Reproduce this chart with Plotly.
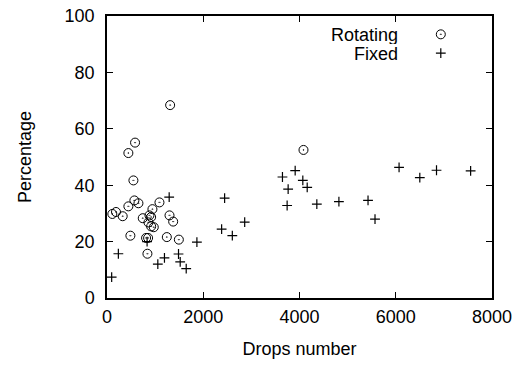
import plotly.graph_objects as go

rot_x = [1312, 583, 444, 549, 4083, 111, 187, 326, 444, 569, 653, 1090, 944, 882, 917, 743,
         861, 917, 972, 1299, 1375, 486, 812, 854, 1243, 1493, 840]
rot_y = [68.4, 55.1, 51.4, 41.7, 52.5, 29.8, 30.5, 29.0, 32.5, 34.6, 33.6, 33.9, 31.5, 29.3, 28.7, 28.3,
         26.8, 25.4, 25.1, 29.3, 27.1, 22.1, 21.3, 21.3, 21.6, 20.7, 15.7]

fix_x = [1292, 2382, 1868, 236, 97, 1056, 1194, 1486, 1521, 1646, 833, 2444, 2604, 2861,
         3646, 3910, 3764, 3743, 4069, 4160, 4360, 4819, 5424, 5569, 6069, 6500, 6847, 7556]
fix_y = [35.8, 24.4, 19.8, 15.7, 7.4, 12.0, 14.2, 15.6, 12.8, 10.4, 20.0, 35.4, 22.1, 26.9,
         42.9, 45.2, 38.6, 32.8, 41.7, 39.2, 33.3, 34.2, 34.6, 28.0, 46.3, 42.7, 45.3, 45.1]

labels = ["Rotating", "Fixed"]
x_ticks = [0, 2000, 4000, 6000, 8000]
y_ticks = [0, 20, 40, 60, 80, 100]

FONT = "Liberation Sans, Arial, sans-serif"
circ = dict(symbol="circle-open-dot", size=9, color="black", line=dict(width=1, color="black"))
plus = dict(symbol="cross-thin-open", size=7, color="black", line=dict(width=1.2, color="black"))

fig = go.Figure()
fig.add_trace(go.Scatter(x=rot_x, y=rot_y, mode="markers", name=labels[0], marker=circ, showlegend=False))
fig.add_trace(go.Scatter(x=fix_x, y=fix_y, mode="markers", name=labels[1], marker=plus, showlegend=False))

# legend keys on an invisible overlay axis (0..1 in plot fraction)
key_x = 0.867
key_y = [0.935, 0.868]
fig.add_trace(go.Scatter(x=[key_x], y=[key_y[0]], mode="markers", marker=circ, xaxis="x2", yaxis="y2",
                         showlegend=False, hoverinfo="skip"))
fig.add_trace(go.Scatter(x=[key_x], y=[key_y[1]], mode="markers", marker=plus, xaxis="x2", yaxis="y2",
                         showlegend=False, hoverinfo="skip"))
for lab, ky in zip(labels, key_y):
    fig.add_annotation(x=0.758, y=ky, xref="paper", yref="paper", text=lab, showarrow=False,
                       xanchor="right", yanchor="middle", height=19, borderpad=0,
                       font=dict(family=FONT, size=18, color="black"))

axis_common = dict(showline=True, linecolor="black", linewidth=1.5, mirror="ticks", ticks="inside",
                   ticklen=6, tickwidth=1.2, tickcolor="black", showgrid=False, zeroline=False,
                   automargin=False, tickfont=dict(family=FONT, size=18, color="black"))

fig.update_layout(
    width=520, height=367,
    margin=dict(l=107, r=28, t=16, b=69),
    paper_bgcolor="white", plot_bgcolor="white",
    xaxis=dict(range=[0, 8000], tickvals=x_ticks, ticklabelstandoff=2,
               title=dict(text="Drops number", standoff=16,
                          font=dict(family=FONT, size=18, color="black")), **axis_common),
    yaxis=dict(range=[0, 100], tickvals=y_ticks, ticklabelstandoff=7,
               title=dict(text="Percentage", standoff=28,
                          font=dict(family=FONT, size=18, color="black")), **axis_common),
    xaxis2=dict(range=[0, 1], overlaying="x", visible=False),
    yaxis2=dict(range=[0, 1], overlaying="y", visible=False),
    font=dict(family=FONT, size=18, color="black"),
)

fig.write_html("out.html")
